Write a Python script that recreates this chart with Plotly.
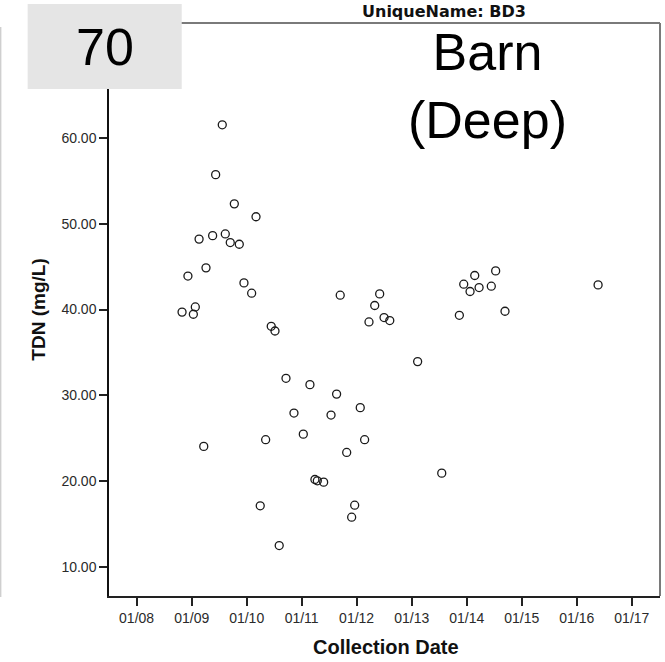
import plotly.graph_objects as go

# ---- data ----
collection_dates = [
    "2009-07-23", "2009-06-09", "2009-10-11", "2010-03-04", "2009-02-19",
    "2009-05-20", "2009-08-12", "2009-09-14", "2009-11-13", "2009-04-06",
    "2008-12-07", "2009-12-14", "2010-02-03", "2009-01-25", "2008-10-29",
    "2009-01-12", "2010-06-13", "2010-07-08", "2010-09-19", "2010-11-11",
    "2011-01-12", "2010-05-07", "2009-03-22", "2010-04-01", "2010-08-05",
    "2011-09-14", "2012-06-02", "2012-04-30", "2012-07-01", "2012-08-08",
    "2012-03-23", "2013-02-09", "2013-11-13", "2011-02-25", "2011-08-21",
    "2011-07-15", "2012-01-25", "2012-02-23", "2011-10-27", "2013-07-19",
    "2011-03-30", "2011-04-15", "2011-05-27", "2011-12-19", "2011-11-29",
    "2014-07-12", "2014-02-23", "2013-12-12", "2014-03-24", "2014-01-23",
    "2014-06-13", "2016-05-22", "2014-09-12",
]
tdn_values = [
    61.5, 55.7, 52.3, 50.8, 48.2,
    48.6, 48.8, 47.8, 47.6, 44.85,
    43.9, 43.1, 41.9, 40.3, 39.7,
    39.45, 38.05, 37.5, 32.0, 27.95,
    25.5, 24.85, 24.07, 17.16, 12.53,
    41.67, 41.82, 40.47, 39.07, 38.72,
    38.56, 33.94, 39.33, 31.26, 30.16,
    27.72, 28.58, 24.85, 23.37, 20.96,
    20.22, 20.07, 19.91, 17.23, 15.83,
    44.5, 43.96, 42.95, 42.56, 42.1,
    42.72, 42.87, 39.8,
]
# the 70.00 tick sits under the grey "70" box in the reference
y_tick_values = [10, 20, 30, 40, 50, 60]
x_range = ["2007-07-02", "2017-07-07"]
y_range = [6.66, 73.35]

panel_title = "UniqueName: BD3"
x_title = "Collection Date"
y_title = "TDN (mg/L)"
box_label = "70"
site_label = "Barn<br>(Deep)"

# ---- layout geometry (pixels) ----
W, H = 665, 662
L, R, T, B = 109.3, 660.0, 23.0, 596.0


def px(x):
    return (x - L) / (R - L)


def py(y):
    return (B - y) / (B - T)


fig = go.Figure()
fig.add_trace(go.Scatter(
    x=collection_dates, y=tdn_values, mode="markers",
    marker=dict(symbol="circle-open", size=8, color="#1a1a1a",
                line=dict(width=1.3, color="#1a1a1a")),
    hoverinfo="x+y", showlegend=False,
))

tick_font = dict(family="Liberation Sans, Arial, sans-serif", size=14, color="#2a2a2a")

fig.update_layout(
    width=W, height=H,
    margin=dict(l=L, r=W - R, t=T, b=H - B, pad=0),
    paper_bgcolor="white", plot_bgcolor="white",
    xaxis=dict(
        type="date", range=x_range, tickformat="%m/%y", dtick="M12",
        tick0="2008-01-01", showgrid=False, zeroline=False,
        showline=True, linecolor="#222", linewidth=1.5,
        ticks="outside", ticklen=8, tickwidth=1.5, tickcolor="#222",
        tickfont=tick_font,
    ),
    yaxis=dict(
        range=y_range, tickvals=y_tick_values, tickformat=".2f",
        showgrid=False, zeroline=False,
        showline=True, linecolor="#111", linewidth=1.5,
        ticks="outside", ticklen=8, tickwidth=1.5, tickcolor="#222",
        tickfont=tick_font,
    ),
    shapes=[
        # top and right frame lines (grey)
        dict(type="line", xref="paper", yref="paper", x0=0, x1=1, y0=1, y1=1,
             line=dict(color="#7a7a7a", width=2), layer="above"),
        dict(type="line", xref="paper", yref="paper", x0=1, x1=1, y0=0, y1=1,
             line=dict(color="#7a7a7a", width=2), layer="above"),
        # faint left edge line
        dict(type="line", xref="paper", yref="paper", x0=px(1), x1=px(1),
             y0=py(27), y1=py(597), line=dict(color="#cfcfcf", width=1.5),
             layer="above"),
        # grey label box
        dict(type="rect", xref="paper", yref="paper",
             x0=px(28), x1=px(182), y0=py(89), y1=py(4),
             fillcolor="#e5e5e5", line=dict(width=0), layer="above"),
    ],
    annotations=[
        dict(text=panel_title, xref="paper", yref="paper", x=px(444), y=py(12),
             xanchor="center", yanchor="middle", showarrow=False,
             font=dict(family="DejaVu Sans, sans-serif", size=16, color="#111",
                       weight="bold")),
        dict(text=box_label, xref="paper", yref="paper", x=px(105), y=py(47),
             xanchor="center", yanchor="middle", showarrow=False,
             font=dict(family="Liberation Sans, Arial, sans-serif", size=52,
                       color="black")),
        dict(text=site_label, xref="paper", yref="paper", x=px(488), y=py(86),
             xanchor="center", yanchor="middle", showarrow=False,
             font=dict(family="Liberation Sans, Arial, sans-serif", size=52,
                       color="black")),
        dict(text=x_title, xref="paper", yref="paper", x=px(385.8), y=py(647),
             xanchor="center", yanchor="middle", showarrow=False,
             font=dict(family="Liberation Sans, Arial, sans-serif", size=20,
                       color="#111", weight="bold")),
        dict(text=y_title, xref="paper", yref="paper", x=px(38), y=py(310),
             xanchor="center", yanchor="middle", showarrow=False, textangle=-90,
             font=dict(family="Liberation Sans, Arial, sans-serif", size=19,
                       color="#111", weight="bold")),
    ],
)

# remove the browser's default 8px page margin so the figure sits at (0, 0)
fig.write_html(
    "out.html",
    config={"displayModeBar": False},
    post_script="document.body.style.margin='0';document.body.style.overflow='hidden';",
)
